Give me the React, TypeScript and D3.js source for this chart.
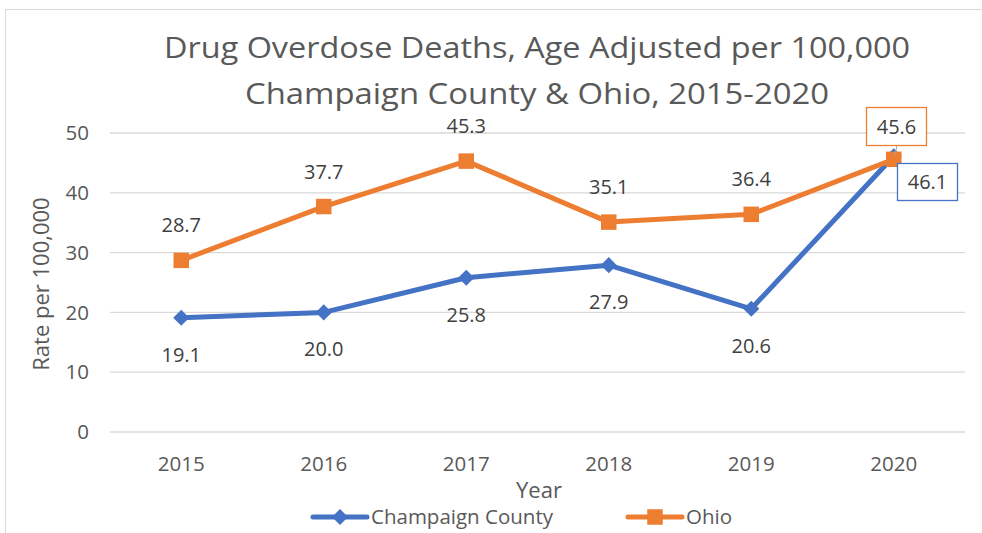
import React from 'react';
import * as d3 from 'd3';

const years = ['2015', '2016', '2017', '2018', '2019', '2020'];
const champaign = [19.1, 20.0, 25.8, 27.9, 20.6, 46.1];
const ohio = [28.7, 37.7, 45.3, 35.1, 36.4, 45.6];
const yTicks = [0, 10, 20, 30, 40, 50];

const BLUE = '#4472C4';
const ORANGE = '#ED7D31';
const FONT = "'Open Sans', 'Noto Sans', sans-serif";

export default function App() {
  const width = 982;
  const height = 533;

  const x = d3.scaleBand<string>().domain(years).range([110, 965]);
  const y = d3.scaleLinear().domain([0, 50]).range([432, 133]);
  const cx = (d: string) => (x(d) as number) + x.bandwidth() / 2;

  const line = d3.line<number>()
    .x((_, i) => cx(years[i]))
    .y(d => y(d));

  // diamond = square turned by 45 degrees, as in the office chart
  const diamond = d3.symbol().type(d3.symbolSquare).size(130)();
  const square = d3.symbol().type(d3.symbolSquare).size(240)();

  const last = years.length - 1;

  return (
    <svg width={width} height={height} style={{ position: 'absolute', left: 0, top: 0 }}>
      <rect x={0} y={0} width={width} height={height} fill="white" />
      <rect x={5.5} y={9.5} width={985} height={540} fill="white" stroke="#D9D9D9" />

      {/* title */}
      <text x={537} y={58} textAnchor="middle" fontFamily={FONT} fontSize={30} fill="#595959"
        textLength={746} lengthAdjust="spacingAndGlyphs">
        Drug Overdose Deaths, Age Adjusted per 100,000
      </text>
      <text x={537} y={104} textAnchor="middle" fontFamily={FONT} fontSize={30} fill="#595959"
        textLength={584} lengthAdjust="spacingAndGlyphs">
        Champaign County &amp; Ohio, 2015-2020
      </text>

      {/* grid */}
      {yTicks.map(t => (
        <g key={t}>
          <line x1={110} x2={965} y1={y(t)} y2={y(t)} stroke="#D9D9D9" strokeWidth={1.3} />
          <text x={89} y={y(t)} dy="0.35em" textAnchor="end" fontFamily={FONT} fontSize={20.5} fill="#595959">{t}</text>
        </g>
      ))}

      {years.map(yr => (
        <text key={yr} x={cx(yr)} y={471} textAnchor="middle" fontFamily={FONT} fontSize={20.5} fill="#595959">{yr}</text>
      ))}

      <text transform={`translate(49,284) rotate(-90)`} textAnchor="middle" fontFamily={FONT} fontSize={22} fill="#595959">
        Rate per 100,000
      </text>
      <text x={539} y={498} textAnchor="middle" fontFamily={FONT} fontSize={22} fill="#595959">Year</text>

      {/* lines */}
      <path d={line(champaign) || ''} fill="none" stroke={BLUE} strokeWidth={5} strokeLinejoin="round" />
      <path d={line(ohio) || ''} fill="none" stroke={ORANGE} strokeWidth={5} strokeLinejoin="round" />
      {champaign.map((v, i) => (
        <path key={'c' + i} d={diamond || ''} transform={`translate(${cx(years[i])},${y(v)}) rotate(45)`} fill={BLUE} />
      ))}
      {ohio.map((v, i) => (
        <path key={'o' + i} d={square || ''} transform={`translate(${cx(years[i])},${y(v)})`} fill={ORANGE} />
      ))}

      {/* data labels */}
      {ohio.map((v, i) => i === last ? null : (
        <text key={'ol' + i} x={cx(years[i])} y={y(v) - 28} textAnchor="middle" fontFamily={FONT} fontSize={20} fill="#404040">
          {v.toFixed(1)}
        </text>
      ))}
      {champaign.map((v, i) => i === last ? null : (
        <text key={'cl' + i} x={cx(years[i])} y={y(v) + 44} textAnchor="middle" fontFamily={FONT} fontSize={20} fill="#404040">
          {v.toFixed(1)}
        </text>
      ))}

      {/* 2020 callouts */}
      <line x1={897} y1={145} x2={895} y2={y(ohio[last]) - 4} stroke="#A6A6A6" strokeWidth={1} />
      <rect x={866.5} y={107.5} width={60} height={38} fill="white" stroke={ORANGE} strokeWidth={1.3} />
      <text x={896.5} y={126.5} dy="0.35em" textAnchor="middle" fontFamily={FONT} fontSize={20} fill="#404040">
        {ohio[last].toFixed(1)}
      </text>
      <rect x={897.5} y={163.5} width={60} height={37} fill="white" stroke={BLUE} strokeWidth={1.3} />
      <text x={927.5} y={182} dy="0.35em" textAnchor="middle" fontFamily={FONT} fontSize={20} fill="#404040">
        {champaign[last].toFixed(1)}
      </text>

      {/* legend */}
      <line x1={313} x2={367} y1={517} y2={517} stroke={BLUE} strokeWidth={5} strokeLinecap="round" />
      <path d={diamond || ''} transform="translate(340,517) rotate(45)" fill={BLUE} />
      <text x={371} y={517} dy="0.35em" fontFamily={FONT} fontSize={20.5} fill="#595959">Champaign County</text>
      <line x1={628} x2={682} y1={517} y2={517} stroke={ORANGE} strokeWidth={5} strokeLinecap="round" />
      <path d={square || ''} transform="translate(655,517)" fill={ORANGE} />
      <text x={686} y={517} dy="0.35em" fontFamily={FONT} fontSize={20.5} fill="#595959">Ohio</text>
    </svg>
  );
}
